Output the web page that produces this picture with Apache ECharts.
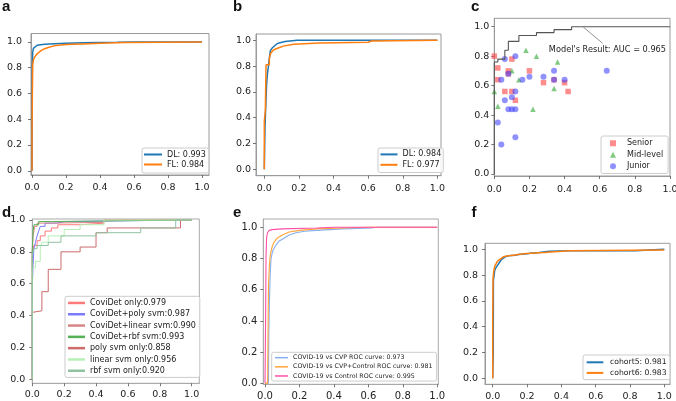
<!DOCTYPE html>
<html><head><meta charset="utf-8">
<script src="https://cdn.jsdelivr.net/npm/echarts@6/dist/echarts.min.js"></script>
<style>html,body{margin:0;padding:0;background:#fff}#c{width:676px;height:401px}</style>
</head><body><div id="c"></div>
<script>
// ---------- tick labels ----------
const ticks = [0, 0.2, 0.4, 0.6, 0.8, 1.0];
const panelLetters = ['a', 'b', 'c', 'd', 'e', 'f'];

// ---------- panel a ----------
const aNames = ['DL: 0.993', 'FL: 0.984'];
const aDL = [[0,0],[0,0.45],[0.002,0.82],[0.004,0.92],[0.008,0.95],[0.016,0.965],[0.03,0.975],[0.06,0.98],[0.1,0.984],[0.2,0.99],[0.3,0.995],[0.5,0.998],[0.6,1],[1,1]];
const aFL = [[0,0],[0,0.3],[0.002,0.6],[0.004,0.82],[0.008,0.86],[0.015,0.88],[0.025,0.9],[0.04,0.92],[0.055,0.935],[0.075,0.948],[0.095,0.957],[0.13,0.97],[0.2,0.98],[0.3,0.985],[0.4,0.99],[0.55,0.997],[1,1]];

// ---------- panel b ----------
const bNames = ['DL: 0.984', 'FL: 0.977'];
const bDL = [[0,0],[0.004,0],[0.004,0.33],[0.013,0.33],[0.013,0.65],[0.018,0.65],[0.018,0.74],[0.024,0.74],[0.024,0.8],[0.03,0.87],[0.035,0.92],[0.045,0.94],[0.055,0.955],[0.07,0.97],[0.085,0.98],[0.12,0.99],[0.19,1.0],[1,1]];
const bFL = [[0,0],[0,0.37],[0.006,0.37],[0.006,0.46],[0.01,0.46],[0.01,0.81],[0.029,0.81],[0.029,0.86],[0.037,0.9],[0.052,0.925],[0.08,0.94],[0.11,0.955],[0.17,0.97],[0.32,0.98],[0.6,0.985],[0.62,0.995],[1,1.0]];

// ---------- panel c ----------
const cNames = ['Senior', 'Mid-level', 'Junior'];
const cModelRoc = [[0,0],[0,0.76],[0.02,0.76],[0.02,0.78],[0.06,0.78],[0.06,0.84],[0.08,0.84],[0.08,0.90],[0.14,0.90],[0.14,0.94],[0.24,0.94],[0.24,0.96],[0.34,0.96],[0.34,0.98],[0.44,0.98],[0.44,1.0],[1.0,1.0]];
const cSenior = [[0,0.80],[0.02,0.72],[0.02,0.64],[0.06,0.56],[0.08,0.70],[0.08,0.68],[0.1,0.78],[0.1,0.56],[0.12,0.50],[0.2,0.70],[0.28,0.62],[0.34,0.64],[0.4,0.62],[0.42,0.56]];
const cMid = [[0,0.56],[0.02,0.46],[0.1,0.70],[0.14,0.64],[0.18,0.84],[0.22,0.44],[0.24,0.80],[0.34,0.58],[0.36,0.76]];
const cJunior = [[0.02,0.35],[0.04,0.2],[0.04,0.64],[0.06,0.78],[0.06,0.50],[0.08,0.68],[0.08,0.44],[0.1,0.52],[0.1,0.44],[0.12,0.80],[0.12,0.56],[0.12,0.44],[0.12,0.25],[0.16,0.64],[0.2,0.66],[0.28,0.66],[0.34,0.70],[0.34,0.64],[0.4,0.64],[0.64,0.70]];
const cAnnotText = "Model's Result: AUC = 0.965";
const cArrowFrom = [0.617, 0.887];
const cArrowTo = [0.507, 0.997];
const cTextAt = [0.644, 0.842];

// ---------- panel d ----------
const dNames = ['CoviDet only:0.979','CoviDet+poly svm:0.987','CoviDet+linear svm:0.990','CoviDet+rbf svm:0.993','poly svm only:0.858','linear svm only:0.956','rbf svm only:0.920'];
const dCoviDet = [[0,0],[0,0.8],[0.01,0.8],[0.01,0.84],[0.03,0.84],[0.03,0.87],[0.05,0.87],[0.05,0.9],[0.08,0.9],[0.08,0.93],[0.12,0.93],[0.12,0.95],[0.16,0.95],[0.16,0.97],[0.3,0.97],[0.3,0.98],[0.45,0.98],[0.45,1],[1,1]];
const dCoviPoly = [[0,0],[0,0.58],[0.005,0.58],[0.005,0.72],[0.01,0.72],[0.01,0.82],[0.02,0.82],[0.02,0.86],[0.03,0.86],[0.03,0.9],[0.04,0.9],[0.04,0.93],[0.05,0.93],[0.05,0.96],[0.08,0.96],[0.08,0.98],[0.15,0.98],[0.15,0.99],[0.21,0.99],[0.21,1],[1,1]];
const dCoviLinear = [[0,0],[0,0.8],[0.005,0.8],[0.005,0.9],[0.015,0.9],[0.015,0.96],[0.03,0.96],[0.03,0.98],[0.08,0.98],[0.08,0.985],[0.45,0.985],[0.45,1],[1,1]];
const dCoviRbf = [[0,0],[0,0.82],[0.005,0.82],[0.005,0.93],[0.01,0.93],[0.01,0.97],[0.04,0.97],[0.04,0.99],[0.12,0.99],[0.12,1],[1,1]];
const dPoly = [[0,0],[0,0.42],[0.06,0.43],[0.06,0.55],[0.1,0.55],[0.1,0.69],[0.18,0.69],[0.18,0.80],[0.3,0.80],[0.3,0.83],[0.4,0.83],[0.4,0.92],[0.47,0.92],[0.47,0.95],[0.93,0.95],[0.93,1],[1,1]];
const dLinear = [[0,0],[0,0.7],[0.02,0.7],[0.02,0.74],[0.05,0.74],[0.05,0.82],[0.06,0.82],[0.06,0.86],[0.1,0.86],[0.1,0.9],[0.2,0.9],[0.2,0.94],[0.3,0.94],[0.3,0.97],[0.45,0.97],[0.45,1],[1,1]];
const dRbf = [[0,0],[0,0.78],[0.01,0.78],[0.01,0.82],[0.03,0.82],[0.03,0.84],[0.1,0.84],[0.1,0.86],[0.18,0.86],[0.18,0.9],[0.4,0.9],[0.4,0.92],[0.68,0.92],[0.68,0.95],[0.9,0.95],[0.9,1],[1,1]];

// ---------- panel e ----------
const eNames = ['COVID-19 vs CVP ROC curve: 0.973','COVID-19 vs CVP+Control ROC curve: 0.981','COVID-19 vs Control ROC curve: 0.995'];
const eCvp = [[0,0],[0.02,0],[0.022,0.3],[0.025,0.5],[0.03,0.7],[0.035,0.8],[0.045,0.85],[0.06,0.88],[0.08,0.91],[0.11,0.93],[0.14,0.95],[0.18,0.965],[0.23,0.975],[0.3,0.98],[0.45,0.99],[0.62,0.995],[0.65,1.0],[1,1]];
const eCvpControl = [[0,0],[0.015,0],[0.018,0.4],[0.02,0.62],[0.025,0.75],[0.03,0.82],[0.04,0.87],[0.05,0.9],[0.07,0.93],[0.1,0.95],[0.14,0.97],[0.2,0.98],[0.3,0.99],[0.45,0.995],[0.6,1.0],[1,1]];
const eControl = [[0,0],[0.004,0.5],[0.006,0.82],[0.009,0.93],[0.014,0.965],[0.025,0.98],[0.04,0.985],[0.1,0.99],[0.3,0.995],[0.4,1.0],[1,1]];

// ---------- panel f ----------
const fNames = ['cohort5: 0.981', 'cohort6: 0.983'];
const fCohort5 = [[0,0],[0.003,0.21],[0.004,0.76],[0.008,0.8],[0.012,0.84],[0.02,0.86],[0.03,0.88],[0.04,0.9],[0.05,0.92],[0.07,0.94],[0.09,0.95],[0.13,0.955],[0.15,0.96],[0.2,0.965],[0.22,0.97],[0.27,0.975],[0.28,0.98],[0.33,0.985],[0.45,0.99],[0.83,0.99],[0.83,1.0],[1,1]];
const fCohort6 = [[0,0],[0,0.5],[0.002,0.78],[0.006,0.83],[0.012,0.87],[0.02,0.89],[0.03,0.91],[0.04,0.925],[0.06,0.94],[0.08,0.948],[0.12,0.955],[0.18,0.965],[0.22,0.97],[0.3,0.975],[0.4,0.985],[0.45,0.99],[1,0.995]];

// ---------- layout / style ----------
const FONT = 'DejaVu Sans';
const TXT = '#222';
const grids = [
  {left:31,   top:33.5, width:178,   height:141.5, xr:[-0.006,1.041], yr:[-0.033,1.066], fs:9.5, xm:7.5, ym:9,  border:'#9a9a9a'},
  {left:256,  top:34,   width:185,   height:141.7, xr:[-0.048,1.021], yr:[-0.05,1.049],  fs:9.5, xm:7.5, ym:5,  border:'#9a9a9a'},
  {left:494.3,top:18.3, width:175.7, height:157.7, xr:[0,1],          yr:[-0.014,1.057], fs:9.5, xm:8.5, ym:5,  border:'#9a9a9a'},
  {left:32.3, top:219,  width:167,   height:164.3, xr:[0,1.048],      yr:[-0.025,1.006], fs:9.5, xm:6.5, ym:7,  border:'#aaaaaa'},
  {left:263.3,top:219,  width:175,   height:165.3, xr:[-0.01,1.006],  yr:[-0.006,1.053], fs:10,  xm:7,   ym:6,  border:'#aaaaaa'},
  {left:485,  top:243.3,width:185,   height:141,   xr:[-0.045,1.033], yr:[-0.047,1.047], fs:9.5, xm:7,   ym:7,  border:'#9a9a9a'}
];
const letterPos = [[2,6.7],[233,6.7],[471,6.7],[2,212.7],[233,212.7],[471.5,212.7]];

const fmt = v => v.toFixed(1);
function axis(gi, r, fs, margin, border) {
  return {
    type:'value', gridIndex:gi, min:r[0], max:r[1],
    axisLine:{show:true, onZero:false, lineStyle:{color:border, width:1}}, splitLine:{show:false},
    axisTick:{show:true, length:3, lineStyle:{color:'#555', width:0.8}, customValues:ticks},
    axisLabel:{customValues:ticks, formatter:fmt, fontSize:fs, color:TXT, fontFamily:FONT, margin:margin}
  };
}
function line(name, data, gi, color, width) {
  return {type:'line', name, data, xAxisIndex:gi, yAxisIndex:gi, symbol:'none', showSymbol:false,
    color, lineStyle:{color, width}, animation:false, clip:true};
}
function legendBox(names, left, top, fs, lh, pad, iw, ih, extra) {
  return Object.assign({
    data:names, orient:'vertical', left, top, padding:pad, itemGap:0,
    itemWidth:iw, itemHeight:ih, icon:'rect', selectedMode:false,
    borderColor:'#cccccc', borderWidth:1, borderRadius:2, backgroundColor:'rgba(255,255,255,0.85)',
    textStyle:{fontSize:fs, lineHeight:lh, color:TXT, fontFamily:FONT}
  }, extra || {});
}

const series = [
  line(aNames[0], aDL, 0, '#1f77b4', 1.5),
  line(aNames[1], aFL, 0, '#ff7f0e', 1.5),
  line(bNames[0], bDL, 1, '#1f77b4', 1.5),
  line(bNames[1], bFL, 1, '#ff7f0e', 1.5),
  Object.assign(line('model', cModelRoc, 2, '#555555', 1.1), {
    markLine:{silent:true, symbol:['none','arrow'], symbolSize:[0,6], animation:false,
      lineStyle:{color:'#666', width:0.7, type:'solid'}, label:{show:false},
      data:[[{coord:cArrowFrom},{coord:cArrowTo}]]},
    markPoint:{silent:true, animation:false, symbol:'rect', symbolSize:1,
      itemStyle:{color:'rgba(0,0,0,0)'},
      label:{show:true, position:'inside', formatter:cAnnotText, fontSize:8.2, color:TXT, fontFamily:FONT},
      data:[{coord:cTextAt}]}
  }),
  {type:'scatter', name:cNames[0], data:cSenior, xAxisIndex:2, yAxisIndex:2, symbol:'rect', symbolSize:5.5, color:'rgba(255,70,70,0.78)', animation:false},
  {type:'scatter', name:cNames[1], data:cMid, xAxisIndex:2, yAxisIndex:2, symbol:'triangle', symbolSize:5.5, color:'rgba(60,170,60,0.8)', animation:false},
  {type:'scatter', name:cNames[2], data:cJunior, xAxisIndex:2, yAxisIndex:2, symbol:'circle', symbolSize:6, color:'rgba(70,70,255,0.75)', animation:false},
  line(dNames[0], dCoviDet, 3, '#ff7a7a', 1),
  line(dNames[1], dCoviPoly, 3, '#7b7bff', 1),
  line(dNames[2], dCoviLinear, 3, '#d98585', 1),
  line(dNames[3], dCoviRbf, 3, '#56b056', 1),
  line(dNames[4], dPoly, 3, '#cc6b6b', 1),
  line(dNames[5], dLinear, 3, '#b6f0b6', 1),
  line(dNames[6], dRbf, 3, '#90c2a2', 1),
  line(eNames[0], eCvp, 4, '#86aef0', 1.1),
  line(eNames[1], eCvpControl, 4, '#ffa53a', 1.1),
  line(eNames[2], eControl, 4, '#ff4fa8', 1.1),
  line(fNames[0], fCohort5, 5, '#1f77b4', 1.5),
  line(fNames[1], fCohort6, 5, '#ff7f0e', 1.5)
];

const option = {
  backgroundColor:'#ffffff',
  animation:false,
  textStyle:{fontFamily:FONT},
  grid: grids.map(g => ({left:g.left, top:g.top, width:g.width, height:g.height, show:true,
    borderColor:g.border, borderWidth:1, backgroundColor:'rgba(0,0,0,0)', containLabel:false, outerBoundsMode:'none'})),
  xAxis: grids.map((g,i) => axis(i, g.xr, g.fs, g.xm, g.border)),
  yAxis: grids.map((g,i) => axis(i, g.yr, g.fs, g.ym, g.border)),
  legend: [
    legendBox(aNames, 142, 148, 8, 10, [1.5,3,3.5,2], 18, 2),
    legendBox(bNames, 378, 148, 8, 10.4, [1.2,2,2.5,2.5], 17, 2),
    legendBox(cNames, 601, 136, 8, 11.5, [1.5,5,1.5,9], 6, 6, {icon:null,
      data:[{name:cNames[0], icon:'rect'},{name:cNames[1], icon:'triangle'},{name:cNames[2], icon:'circle'}],
      textStyle:{fontSize:8, lineHeight:11.5, color:TXT, fontFamily:FONT, padding:[0,0,0,6]}}),
    legendBox(dNames, 65, 296.3, 8, 11.3, [1,4,1,3], 17, 2.5),
    legendBox(eNames, 271.7, 352.3, 6.3, 9.15, [0.8,4,0.5,3.3], 13, 1.5),
    legendBox(fNames, 583, 355, 7.7, 10.6, [2,3.3,1.5,3.7], 16.6, 2,
      {textStyle:{fontSize:7.7, lineHeight:10.6, color:TXT, fontFamily:FONT, padding:[0,0,0,1.7]}})
  ],
  graphic: panelLetters.map((t,i) => ({type:'text', x:letterPos[i][0], y:letterPos[i][1], silent:true,
    style:{text:t, font:'bold 15px "Liberation Sans", Arial, sans-serif', fill:'#111', verticalAlign:'middle', align:'left'}})),
  series
};
const chart = echarts.init(document.getElementById('c'), null, {renderer:'canvas'});
chart.setOption(option);
</script>
</body></html>
